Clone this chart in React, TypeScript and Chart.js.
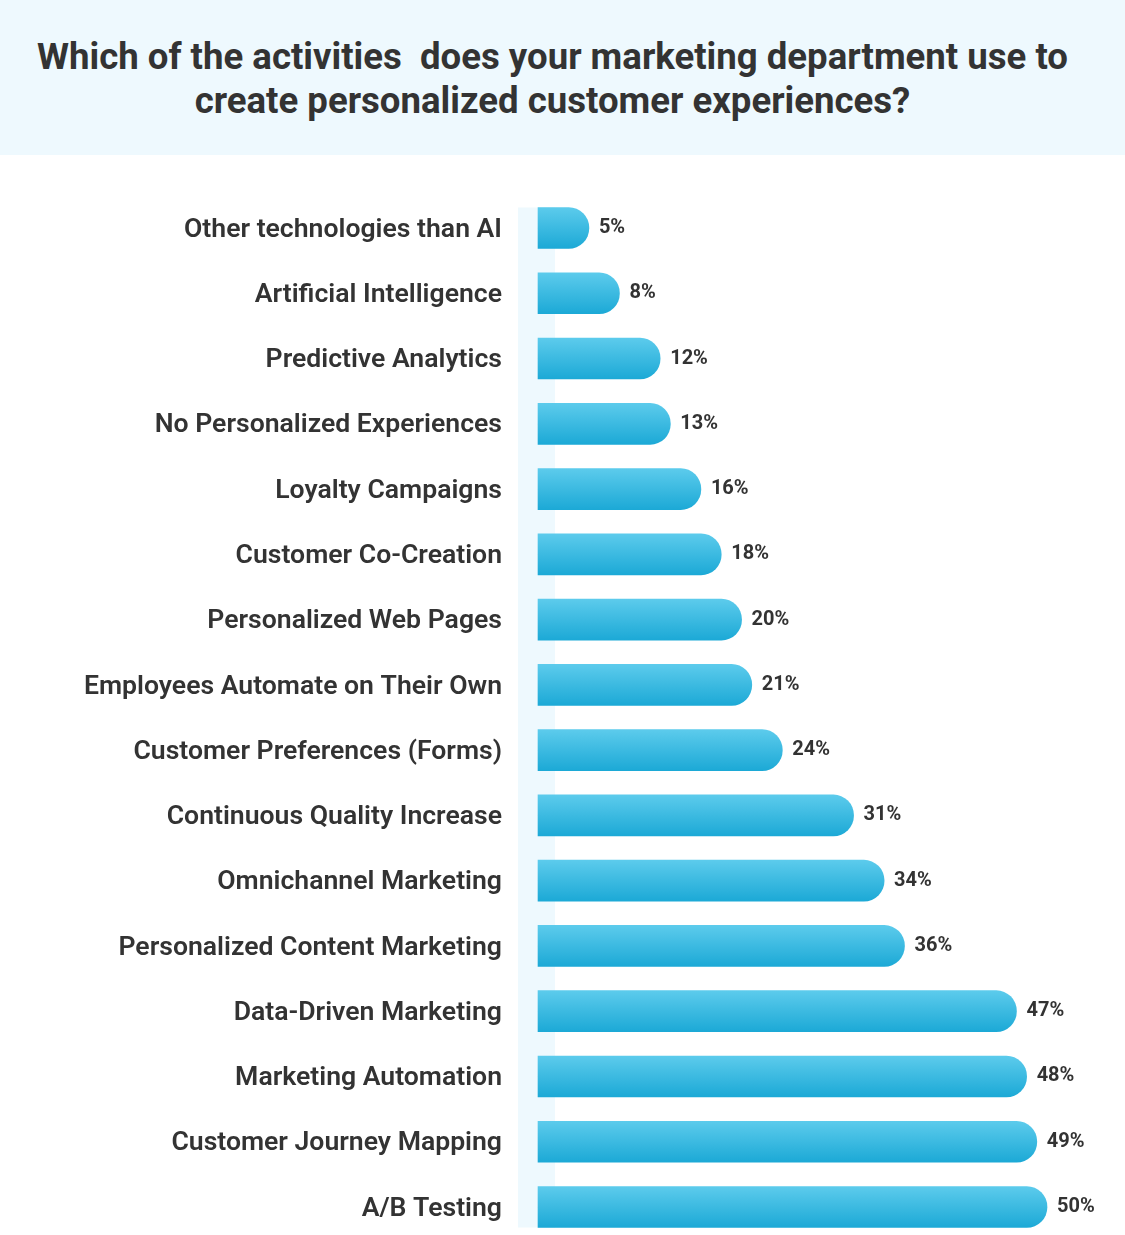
import React, { useEffect, useRef } from "react";
import { Chart, registerables } from "chart.js";

Chart.register(...registerables);

const titleLines = [
  "Which of the activities  does your marketing department use to",
  "create personalized customer experiences?",
];

const categories = [
  "Other technologies than AI",
  "Artificial Intelligence",
  "Predictive Analytics",
  "No Personalized Experiences",
  "Loyalty Campaigns",
  "Customer Co-Creation",
  "Personalized Web Pages",
  "Employees Automate on Their Own",
  "Customer Preferences (Forms)",
  "Continuous Quality Increase",
  "Omnichannel Marketing",
  "Personalized Content Marketing",
  "Data-Driven Marketing",
  "Marketing Automation",
  "Customer Journey Mapping",
  "A/B Testing",
];

const values = [5, 8, 12, 13, 16, 18, 20, 21, 24, 31, 34, 36, 47, 48, 49, 50];

const BAR_THICKNESS = 41;

const stripPlugin = {
  id: "strip",
  beforeDatasetsDraw(chart: any) {
    const { ctx, chartArea, scales } = chart;
    const y = scales.y;
    const top = y.getPixelForValue(0) - BAR_THICKNESS / 2;
    const bottom = y.getPixelForValue(categories.length - 1) + BAR_THICKNESS / 2;
    ctx.save();
    ctx.fillStyle = "#eef9fe";
    ctx.fillRect(chartArea.left - 20, top, 37, bottom - top);
    ctx.restore();
  },
};

const valueLabelPlugin = {
  id: "valueLabels",
  afterDatasetsDraw(chart: any) {
    const { ctx } = chart;
    const meta = chart.getDatasetMeta(0);
    ctx.save();
    ctx.font = "bold 20px Roboto";
    ctx.fillStyle = "#333333";
    ctx.textAlign = "left";
    ctx.textBaseline = "middle";
    meta.data.forEach((bar: any, i: number) => {
      ctx.fillText(values[i] + "%", bar.x + 10, bar.y);
    });
    ctx.restore();
  },
};

export default function App() {
  const canvasRef = useRef<HTMLCanvasElement | null>(null);

  useEffect(() => {
    if (!canvasRef.current) return;
    const chart = new Chart(canvasRef.current, {
      type: "bar",
      data: {
        labels: categories,
        datasets: [
          {
            data: values,
            barThickness: BAR_THICKNESS,
            borderRadius: 21,
            borderSkipped: "start",
            clip: false as any,
            backgroundColor: (context: any) => {
              const chartObj = context.chart;
              const yScale = chartObj.scales?.y;
              if (!yScale || context.dataIndex === undefined) return "#35b8e0";
              const cy = yScale.getPixelForValue(context.dataIndex);
              if (!isFinite(cy)) return "#35b8e0";
              const g = chartObj.ctx.createLinearGradient(
                0,
                cy - BAR_THICKNESS / 2,
                0,
                cy + BAR_THICKNESS / 2
              );
              g.addColorStop(0, "#5ccbec");
              g.addColorStop(1, "#1ca9d6");
              return g;
            },
          },
        ],
      },
      options: {
        indexAxis: "y",
        responsive: false,
        animation: false,
        layout: { padding: { left: 0, right: 78, top: 73, bottom: 28 } },
        plugins: {
          legend: { display: false },
          tooltip: { enabled: false },
          title: { display: false },
        },
        scales: {
          x: {
            display: false,
            min: 0,
            max: 50,
          },
          y: {
            type: "category",
            offset: false,
            grid: { display: false, drawTicks: false, tickLength: 0 },
            border: { display: false },
            ticks: {
              padding: 36,
              labelOffset: 2,
              color: "#333333",
              font: { family: "Roboto", size: 26.6, weight: 600 },
            },
            afterFit(scale: any) {
              scale.width = 538;
              scale.paddingTop = 0;
              scale.paddingBottom = 0;
            },
          },
        },
      },
      plugins: [stripPlugin, valueLabelPlugin],
    });
    return () => chart.destroy();
  }, []);

  return (
    <div
      style={{
        position: "absolute",
        left: 0,
        top: 0,
        width: 1125,
        height: 1235,
        background: "#ffffff",
        overflow: "hidden",
      }}
    >
      <div
        style={{
          height: 155,
          boxSizing: "border-box",
          paddingTop: 35,
          paddingRight: 20,
          background: "#eef9fe",
          textAlign: "center",
          fontFamily: "Roboto",
          fontWeight: 700,
          fontSize: 36.6,
          lineHeight: "44px",
          color: "#333333",
          whiteSpace: "pre",
        }}
      >
        {titleLines.map((l, i) => (
          <div key={i}>{l}</div>
        ))}
      </div>
      <canvas
        ref={canvasRef}
        width={1125}
        height={1080}
        style={{ display: "block", width: 1125, height: 1080 }}
      />
    </div>
  );
}
